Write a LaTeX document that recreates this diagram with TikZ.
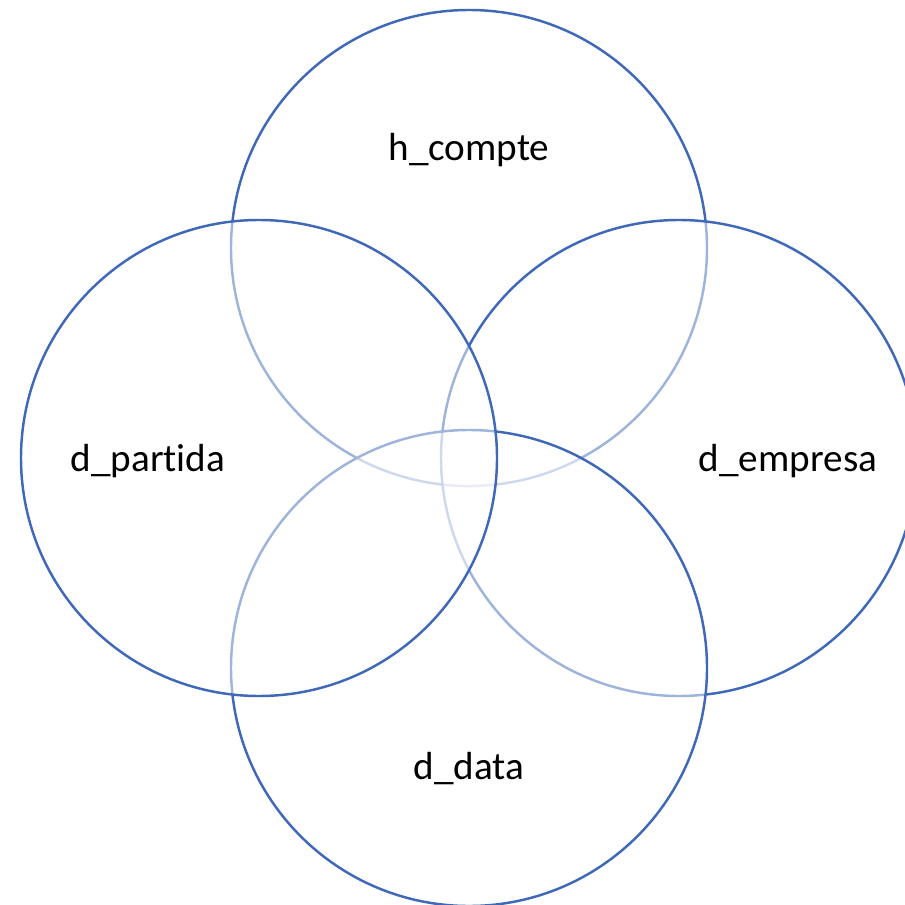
\documentclass[tikz,border=0pt]{standalone}
\usepackage{fontspec}
\setmainfont[Ligatures={NoCommon}]{Carlito}
\definecolor{ringblue}{HTML}{3F69B8}
\begin{document}
\begin{tikzpicture}[x=0.02cm,y=-0.02cm,
  ring/.style={draw=ringblue,line width=1.4pt,fill=white,fill opacity=0.5,draw opacity=1},
  lbl/.style={anchor=base,font=\fontsize{22.3}{26}\selectfont,text=black,inner sep=0pt}]
\useasboundingbox (0,0) rectangle (905,905);
\fill[white] (0,0) rectangle (905,905);
\path[ring] (469,248) circle[radius=238];
\path[ring] (679,458) circle[radius=238];
\path[ring] (469,668) circle[radius=238];
\path[ring] (259,458) circle[radius=238];
\node[lbl] (hc) at (469,161) {h\_compte};
\node[lbl] (dp) at (148,471) {d\_partida};
\node[lbl] (de) at (788,471) {d\_empresa};
\node[lbl] (dd) at (469,779) {d\_data};
\end{tikzpicture}
\end{document}
